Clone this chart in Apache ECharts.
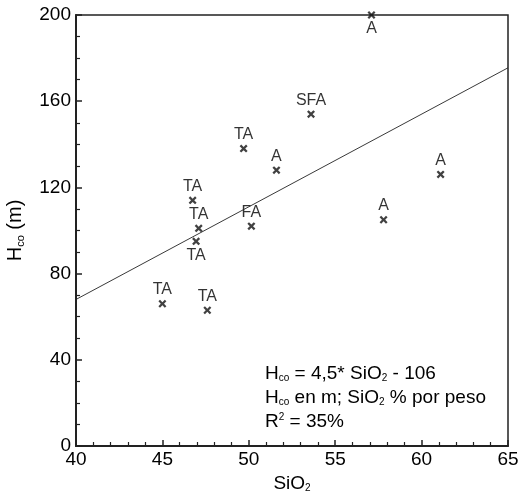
<!DOCTYPE html>
<html>
<head>
<meta charset="utf-8">
<script src="https://cdn.jsdelivr.net/npm/echarts@6/dist/echarts.min.js"></script>
<style>html,body{margin:0;padding:0;background:#fff}#c{width:523px;height:491px}</style>
</head>
<body>
<div id="c"></div>
<script>
var sio2 = [57.1, 53.6, 49.7, 51.6, 61.1, 46.75, 57.8, 47.1, 50.15, 46.95, 45.0, 47.6];
var hco  = [200, 154, 138, 128, 126, 114, 105, 101, 102, 95, 66, 63];
var types = ['A', 'SFA', 'TA', 'A', 'A', 'TA', 'A', 'TA', 'FA', 'TA', 'TA', 'TA'];
var labelBelow = [0, 9];
var fitLine = [[40, 68], [65, 175.5]];
var xTicks = [40, 45, 50, 55, 60, 65];
var yTicks = [0, 40, 80, 120, 160, 200];

var F = '"Liberation Sans", Arial, sans-serif';
var C = '#000';
var cross = 'path://M2,0 L5,3 L8,0 L10,2 L7,5 L10,8 L8,10 L5,7 L2,10 L0,8 L3,5 L0,2 Z';

var pts = sio2.map(function (x, i) {
  return {
    value: [x, hco[i]],
    name: types[i],
    label: { position: labelBelow.indexOf(i) >= 0 ? 'bottom' : 'top' }
  };
});

var sub = { fontFamily: F, fontSize: 10, color: C, padding: [10, 0, 0, 0] };
var subG = { fontFamily: F, fontSize: 10, fill: C, padding: [10, 0, 0, 0] };

var chart = echarts.init(document.getElementById('c'));
chart.setOption({
  animation: false,
  grid: { left: 76, right: 15, top: 15, bottom: 45, containLabel: false, outerBoundsMode: 'none',
    show: true, borderColor: '#222', borderWidth: 1.5, backgroundColor: 'transparent' },
  xAxis: {
    type: 'value', min: xTicks[0], max: xTicks[xTicks.length - 1], interval: 5,
    name: 'SiO{s|2}', nameLocation: 'middle', nameGap: 19,
    nameTextStyle: { fontFamily: F, fontSize: 19, color: C, rich: { s: sub } },
    axisLine: { lineStyle: { color: '#222', width: 2 } },
    axisTick: { inside: true, length: 6, lineStyle: { color: '#222', width: 1.5 } },
    minorTick: { show: true, splitNumber: 5, length: 4, lineStyle: { color: '#222', width: 1.2 } },
    splitLine: { show: false },
    axisLabel: { fontFamily: F, fontSize: 19, color: C, margin: 4 }
  },
  yAxis: {
    type: 'value', min: yTicks[0], max: yTicks[yTicks.length - 1], interval: 40,
    name: 'H{s|co} (m)', nameLocation: 'middle', nameGap: 50,
    nameTextStyle: { fontFamily: F, fontSize: 20, color: C, rich: { s: { fontFamily: F, fontSize: 11, color: C, padding: [10, 0, 0, 0] } } },
    axisLine: { lineStyle: { color: '#222', width: 2 } },
    axisTick: { inside: true, length: 6, lineStyle: { color: '#222', width: 1.5 } },
    minorTick: { show: true, splitNumber: 4, length: 4, lineStyle: { color: '#222', width: 1.2 } },
    splitLine: { show: false },
    axisLabel: { fontFamily: F, fontSize: 19, color: C, margin: 5 }
  },
  series: [
    {
      type: 'line', data: fitLine, symbol: 'none', silent: true,
      lineStyle: { color: '#222', width: 0.9 }
    },
    {
      type: 'scatter', data: pts, symbol: cross, symbolSize: 8,
      itemStyle: { color: '#111' },
      label: { show: true, formatter: '{b}', fontFamily: F, fontSize: 16, color: C, distance: 2 }
    }
  ],
  graphic: [
    { type: 'text', left: 265, top: 364, style: { text: 'H{s|co} = 4,5* SiO{s|2} - 106', fontFamily: F, fontSize: 19, fill: C, rich: { s: subG } } },
    { type: 'text', left: 265, top: 388, style: { text: 'H{s|co} en m; SiO{s|2} % por peso', fontFamily: F, fontSize: 19, fill: C, rich: { s: subG } } },
    { type: 'text', left: 265, top: 412, style: { text: 'R{p|2} = 35%', fontFamily: F, fontSize: 19, fill: C,
      rich: { p: { fontFamily: F, fontSize: 10, fill: C, padding: [0, 0, 9, 0] } } } }
  ]
});
</script>
</body>
</html>
